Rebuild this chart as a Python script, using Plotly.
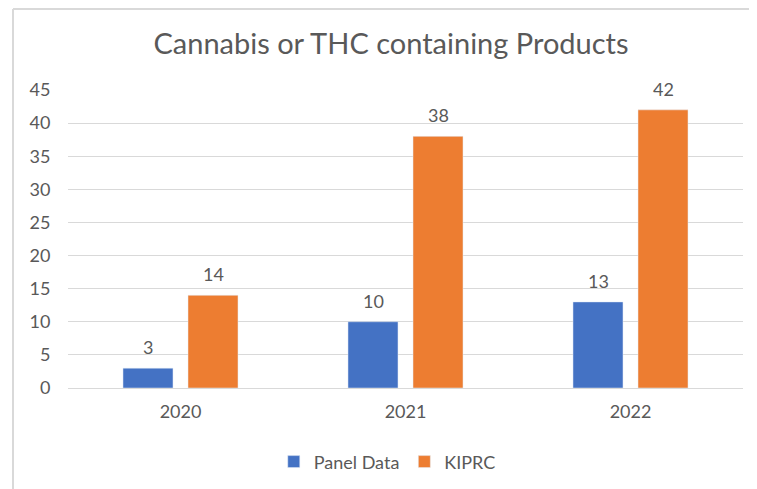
import plotly.graph_objects as go

years = ["2020", "2021", "2022"]
panel_data = [3, 10, 13]
kiprc = [14, 38, 42]
series_names = ["Panel Data", "KIPRC"]
y_ticks = [0, 5, 10, 15, 20, 25, 30, 35, 40, 45]

BLUE = "#4472C4"
ORANGE = "#ED7D31"
TXT = "#595959"
FONT = "Lato"

fig = go.Figure()
fig.add_trace(go.Bar(x=years, y=panel_data, name=series_names[0], marker_color=BLUE))
fig.add_trace(go.Bar(x=years, y=kiprc, name=series_names[1], marker_color=ORANGE))

annotations = []
for vals, shift in ((panel_data, -32.5), (kiprc, 32.5)):
    for i, yv in enumerate(vals):
        annotations.append(dict(x=i, y=yv, xref="x", yref="y", text=str(yv), showarrow=False,
                                xshift=shift, yshift=21, yanchor="middle",
                                font=dict(family=FONT, size=18, color=TXT)))

fig.update_layout(
    width=757, height=489,
    margin=dict(l=60, r=22, t=82, b=109, autoexpand=False),
    paper_bgcolor="white", plot_bgcolor="white",
    title=dict(text="Cannabis or THC containing Products", x=383 / 757, xanchor="center",
               xref="container", y=1 - 36 / 489, yanchor="middle", yref="container",
               font=dict(family=FONT, size=29, color=TXT)),
    barmode="group", bargap=0.422, bargroupgap=0.231,
    showlegend=True,
    legend=dict(orientation="h", x=0.473, xanchor="center", y=-0.248, yanchor="middle",
                font=dict(family=FONT, size=18, color=TXT), itemwidth=30),
    annotations=annotations,
    shapes=[
        dict(type="line", xref="paper", yref="paper", x0=(13 - 68) / 675, x1=1.05,
             y0=(388 - 9) / 298, y1=(388 - 9) / 298, line=dict(color="#d9d9d9", width=2)),
        dict(type="line", xref="paper", yref="paper", x0=(13 - 68) / 675, x1=(13 - 68) / 675,
             y0=(388 - 9) / 298, y1=-0.4, line=dict(color="#d9d9d9", width=2)),
    ],
)
fig.update_yaxes(range=[0, 45], tickvals=y_ticks, showgrid=True, gridcolor="#d9d9d9",
                 gridwidth=1, zeroline=True, zerolinecolor="#d9d9d9", zerolinewidth=1,
                 ticks="outside", ticklen=13, tickcolor="rgba(0,0,0,0)",
                 tickfont=dict(family=FONT, size=18, color=TXT), showline=False)
fig.update_xaxes(type="category", showgrid=False, ticks="outside", ticklen=7,
                 tickcolor="rgba(0,0,0,0)",
                 tickfont=dict(family=FONT, size=18, color=TXT), showline=False)

fig.write_html("out.html")
